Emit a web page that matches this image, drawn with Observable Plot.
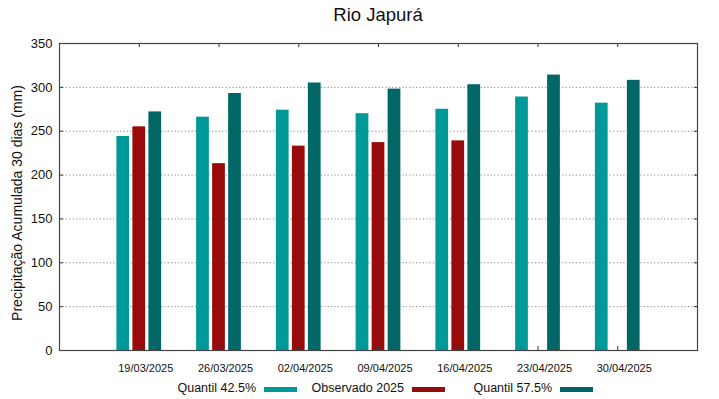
<!DOCTYPE html>
<html>
<head>
<meta charset="utf-8">
<script src="https://cdn.jsdelivr.net/npm/d3@7"></script>
<script src="https://cdn.jsdelivr.net/npm/@observablehq/plot@0.6"></script>
<style>
  html, body { margin: 0; padding: 0; background: #fff; }
  body { width: 719px; height: 399px; overflow: hidden; font-family: "Liberation Sans", Arial, sans-serif; color: #111; }
  #title { height: 30px; line-height: 30px; font-size: 18.5px; padding-left: 59px; width: 638px; text-align: center; }
  #chart svg { display: block; }
  #legend { position: relative; height: 22px; font-size: 12.5px; }
  .item { position: absolute; top: 0; width: 148px; height: 21px; display: flex; justify-content: flex-end; align-items: center; }
  .sw { width: 33px; height: 5px; margin-left: 8px; margin-top: 3px; }
</style>
</head>
<body>
<div id="title">Rio Japurá</div>
<div id="chart"></div>
<div id="legend"></div>
<script>
// ---- data ----
const dates = ["19/03/2025", "26/03/2025", "02/04/2025", "09/04/2025", "16/04/2025", "23/04/2025", "30/04/2025"];
const quantil425 = [244, 266, 274, 270, 275, 289, 282];
const observado2025 = [255, 213, 233, 237, 239, null, null];
const quantil575 = [272, 293, 305, 298, 303, 314, 308];
const seriesNames = ["Quantil 42.5%", "Observado 2025", "Quantil 57.5%"];
const yTicks = [0, 50, 100, 150, 200, 250, 300, 350];
const yTitle = "Precipitação Acumulada 30 dias (mm)";

// ---- styles ----
const colors = ["#009999", "#990b0b", "#006666"];
const seriesValues = [quantil425, observado2025, quantil575];
const offsets = [-16, 0, 16];

const rows = seriesValues.map(vals =>
  dates.map((d, i) => ({date: d, value: vals[i]})).filter(r => r.value != null)
);

const barW = 12.75;
const band = 638 / 8;
const inset = (band - barW) / 2;

const plot = Plot.plot({
  width: 719,
  height: 347,
  marginTop: 13,
  marginLeft: 59,
  marginRight: 22,
  marginBottom: 27,
  style: {fontFamily: "'Liberation Sans', Arial, sans-serif", color: "#111", background: "#fff"},
  x: {domain: dates, paddingInner: 0, paddingOuter: 0.5, round: false, axis: null},
  y: {domain: [0, 350], axis: null},
  marks: [
    Plot.ruleY(yTicks.filter(t => t > 0 && t < 350), {y: d => d, stroke: "#888", strokeWidth: 1, strokeDasharray: "1.2,2.2"}),
    ...rows.map((data, j) => Plot.barY(data, {
      x: "date", y: "value", fill: colors[j], dx: offsets[j], insetLeft: inset, insetRight: inset
    })),
    Plot.ruleX(dates, {x: d => d, y1: 0, y2: 4.6, stroke: "#333"}),
    Plot.ruleX(dates, {x: d => d, y1: 350, y2: 345.4, stroke: "#333"}),
    Plot.axisY({ticks: yTicks, anchor: "left", tickSize: -4, tickFormat: () => "", stroke: "#333", label: null}),
    Plot.axisY({ticks: yTicks, anchor: "right", tickSize: -4, tickFormat: () => "", stroke: "#333", label: null}),
    Plot.frame({stroke: "#444", strokeWidth: 1.2}),
    Plot.axisX({tickSize: 0, tickPadding: 14, fontSize: 11, dx: 6.5, label: null}),
    Plot.axisY({ticks: yTicks, tickSize: 0, tickPadding: 7, fontSize: 13, label: null}),
    Plot.text([yTitle], {text: d => d, frameAnchor: "left", textAnchor: "middle", rotate: -90, dx: -42, dy: 6, fontSize: 14, fill: "#111"})
  ]
});
document.getElementById("chart").appendChild(plot);

// ---- legend ----
const legend = document.getElementById("legend");
seriesNames.forEach((name, j) => {
  const it = document.createElement("div");
  it.className = "item";
  it.style.left = (149 + 148 * j) + "px";
  const t = document.createElement("span");
  t.textContent = name;
  const s = document.createElement("span");
  s.className = "sw";
  s.style.background = colors[j];
  it.appendChild(t);
  it.appendChild(s);
  legend.appendChild(it);
});
</script>
</body>
</html>
